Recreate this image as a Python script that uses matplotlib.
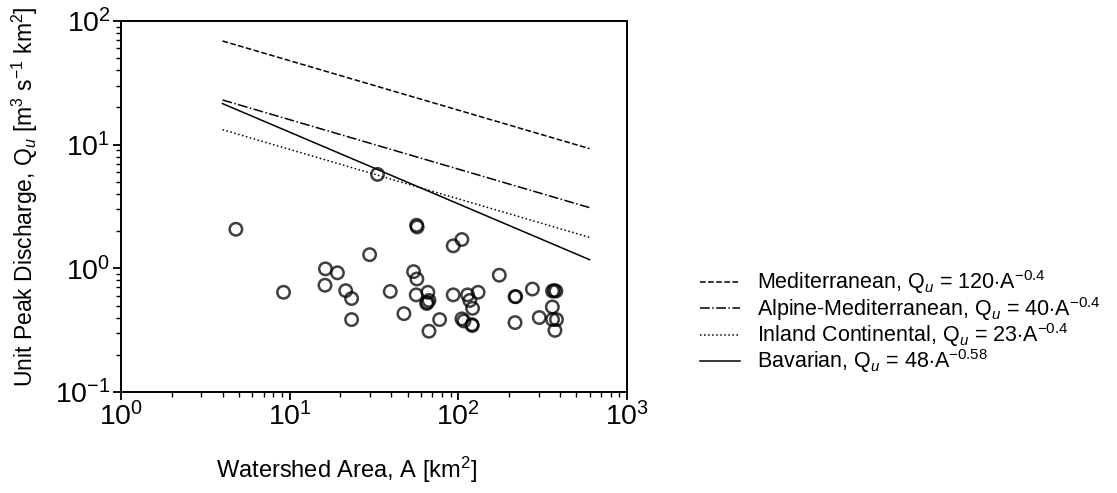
import numpy as np
import matplotlib
matplotlib.use('Agg')
import matplotlib.pyplot as plt

plt.rcParams['font.family'] = ['Liberation Sans', 'DejaVu Sans']
plt.rcParams['mathtext.fontset'] = 'custom'
plt.rcParams['mathtext.rm'] = 'Liberation Sans'
plt.rcParams['mathtext.it'] = 'Liberation Sans:italic'
plt.rcParams['mathtext.bf'] = 'Liberation Sans:bold'

# observed watershed area [km2] and unit peak discharge [m3 s-1 km-2]
area = [33.2, 4.8, 56.6, 57.0, 105, 93.3, 29.8, 16.3, 19.2, 16.2, 21.5, 23.3, 9.2,
        23.3, 39.5, 47.6, 54.3, 56.8, 56.3, 66, 67, 64.9, 65.5, 77.5, 67, 93.3,
        113.5, 117, 131, 121.5, 105, 108, 120.5, 121, 175, 217, 219, 275, 217,
        302, 362, 379, 370, 361, 362, 382, 374]
qu = [5.75, 2.07, 2.23, 2.16, 1.71, 1.52, 1.29, 0.99, 0.92, 0.73, 0.66, 0.57, 0.64,
      0.385, 0.65, 0.43, 0.94, 0.82, 0.61, 0.64, 0.55, 0.52, 0.53, 0.385, 0.31, 0.61,
      0.61, 0.55, 0.64, 0.475, 0.39, 0.375, 0.35, 0.345, 0.88, 0.59, 0.59, 0.68, 0.364,
      0.40, 0.655, 0.655, 0.66, 0.487, 0.385, 0.385, 0.315]

# envelope curves Qu = c * A^b
curve_names = ['Mediterranean', 'Alpine-Mediterranean', 'Inland Continental', 'Bavarian']
curve_c = [120, 40, 23, 48]
curve_b = [-0.4, -0.4, -0.4, -0.58]
curve_styles = ['--', '-.', ':', '-']
a_min, a_max = 4, 600

fig = plt.figure(figsize=(11.17, 4.93), dpi=100)
ax = fig.add_axes([0.1083, 0.2049, 0.4530, 0.7525])

a_line = np.logspace(np.log10(a_min), np.log10(a_max), 100)
for name, c, b, ls in zip(curve_names, curve_c, curve_b, curve_styles):
    lab = name + r', Q$_u$ = ' + f'{c}' + r'$\cdot$A$^{' + f'{b}' + '}$'
    ax.plot(a_line, c * a_line ** b, color='k', linestyle=ls, linewidth=1.1, label=lab)

ax.scatter(area, qu, s=80, facecolors='none', edgecolors='k', linewidths=1.8, alpha=0.75, zorder=3)

ax.set_xscale('log')
ax.set_yscale('log')
ax.set_xlim(1, 1000)
ax.set_ylim(0.1, 100)

ax.set_xlabel(r'Watershed Area, A [km$^2$]', fontsize=17)
ax.set_ylabel(r'Unit Peak Discharge, Q$_u$ [m$^3$ s$^{-1}$ km$^2$]', fontsize=16.5)
ax.xaxis.set_label_coords(0.445, -0.17)
ax.yaxis.set_label_coords(-0.16, 0.526)
ax.tick_params(which='major', labelsize=20.5, length=6, width=1.3, direction='out', pad=1.5)
ax.tick_params(which='minor', length=3.5, width=1.0, direction='out')
for sp in ax.spines.values():
    sp.set_linewidth(1.4)

ax.legend(loc='center left', bbox_to_anchor=(700 / 1117, 0.347), bbox_transform=fig.transFigure,
          frameon=False, fontsize=15.5, handlelength=1.85, handletextpad=0.8,
          labelspacing=-0.07, borderpad=0, borderaxespad=0)

fig.savefig('out.png', dpi=100)
